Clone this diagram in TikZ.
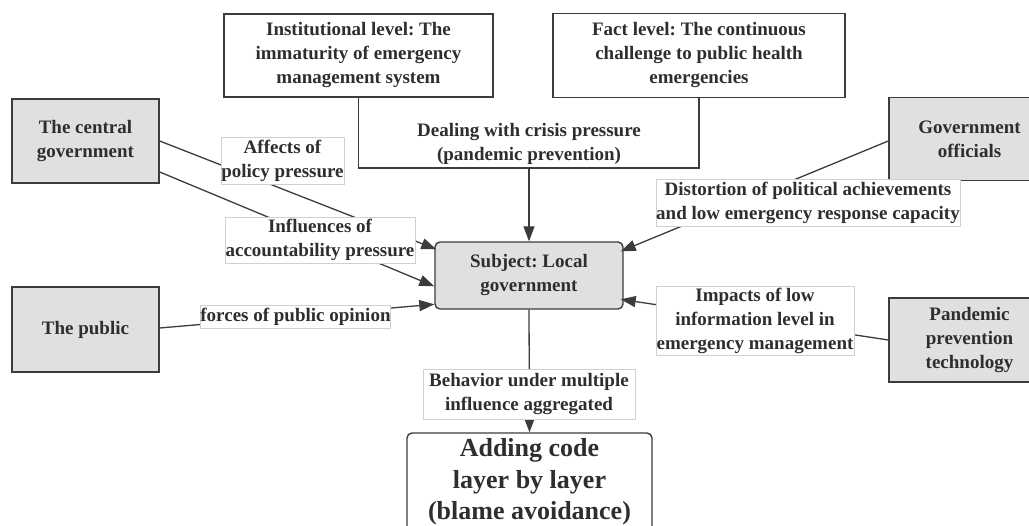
\documentclass[tikz,border=0pt]{standalone}
\usepackage{fontspec}
\setmainfont{Liberation Serif}
\frenchspacing
\usetikzlibrary{arrows.meta}
\definecolor{boxgray}{HTML}{E0E0E0}
\definecolor{bordc}{HTML}{3C3C3C}
\definecolor{txt}{HTML}{2E2E2E}
\definecolor{lblborder}{HTML}{D0D0D0}
\newcommand\txf{\fontsize{19}{24}\selectfont\bfseries\frenchspacing}
\newcommand\bigtxf{\fontsize{26}{31.5}\selectfont\bfseries\frenchspacing}
\tikzset{
  graybox/.style={draw=bordc, line width=1.4pt, fill=boxgray, text=txt, align=center, inner sep=0pt, font=\txf},
  whitebox/.style={draw=bordc, line width=1.4pt, fill=white, text=txt, align=center, inner sep=0pt, font=\txf},
  lbl/.style={draw=lblborder, line width=0.6pt, fill=white, text=txt, align=center, inner sep=0pt, font=\txf},
  plain/.style={text=txt, align=center, inner sep=0pt, font=\txf},
  conn/.style={draw=bordc, line width=1.3pt},
  arr/.style={conn, -{Triangle[length=15pt,width=11pt]}},
}
\begin{document}
\begin{tikzpicture}[x=1pt,y=-1pt]
\useasboundingbox (0,0) rectangle (1029,526);
\clip (0,0) rectangle (1029,526);
\fill[white] (0,0) rectangle (1029,526);

% main boxes
\node[whitebox, minimum width=269pt, minimum height=83pt] (inst) at (358.5,55.5)
  {Institutional level: The\\immaturity of emergency\\management system};
\node[whitebox, minimum width=292pt, minimum height=84pt] (fact) at (699,55.5)
  {Fact level: The continuous\\challenge to public health\\emergencies};
\node[graybox, minimum width=147pt, minimum height=84pt] (central) at (85.5,141)
  {The central\\government};
\node[graybox, minimum width=147pt, minimum height=85pt] (public) at (85.5,329.5)
  {The public};
\node[graybox, minimum width=161pt, minimum height=83pt] (gov) at (969.5,139)
  {Government\\officials};
\node[graybox, minimum width=161pt, minimum height=84pt] (pand) at (969.5,340)
  {Pandemic\\prevention\\technology};
\node[graybox, rounded corners=5pt, minimum width=188pt, minimum height=67pt] (subject) at (529,275.5)
  {Subject: Local\\government};
\node[whitebox, rounded corners=5pt, minimum width=245pt, minimum height=107pt] (adding) at (529.5,486.5) {};
\node[plain, font=\bigtxf] (addingtxt) at (529.5,482) {Adding code\\layer by layer\\(blame avoidance)};

% crisis U connector
\coordinate (cbot) at (529,168);
\draw[conn] (inst.south) |- (cbot) -| (fact.south);
\node[plain] (crisis) at (529,143.5) {Dealing with crisis pressure\\(pandemic prevention)};
\draw[arr] (cbot) -- (subject.north);

% connectors
\draw[arr] (central.east) -- ([shift={(2pt,-8pt)}]subject.north west);
\draw[arr] ([yshift=-31pt]central.east) -- ([yshift=-45pt]subject.north west);
\draw[arr] ([yshift=1.5pt]public.east) -- ([yshift=-63pt]subject.north west);
\draw[arr] ([yshift=-2pt]gov.west) -- ([shift={(-3pt,-10pt)}]subject.north east);
\draw[arr] (pand.west) -- ([shift={(-3pt,-58pt)}]subject.north east);
\draw[arr] (subject.south) -- (adding.north);

% labels
\node[lbl, minimum width=123pt, minimum height=47pt] (laff) at (282.5,160.5) {Affects of\\policy pressure};
\node[lbl, minimum width=190pt, minimum height=46pt] (linf) at (320,240) {Influences of\\accountability pressure};
\node[lbl, minimum width=190pt, minimum height=23pt] (lfor) at (295.5,316.5) {forces of public opinion};
\node[lbl, minimum width=304pt, minimum height=47pt] (ldis) at (808,202.5) {Distortion of political achievements\\and low emergency response capacity};
\node[lbl, minimum width=198pt, minimum height=69pt] (limp) at (755,321) {Impacts of low\\information level in\\emergency management};
\node[lbl, minimum width=212pt, minimum height=50pt] (lbeh) at (529,394) {Behavior under multiple\\influence aggregated};
\end{tikzpicture}
\end{document}
